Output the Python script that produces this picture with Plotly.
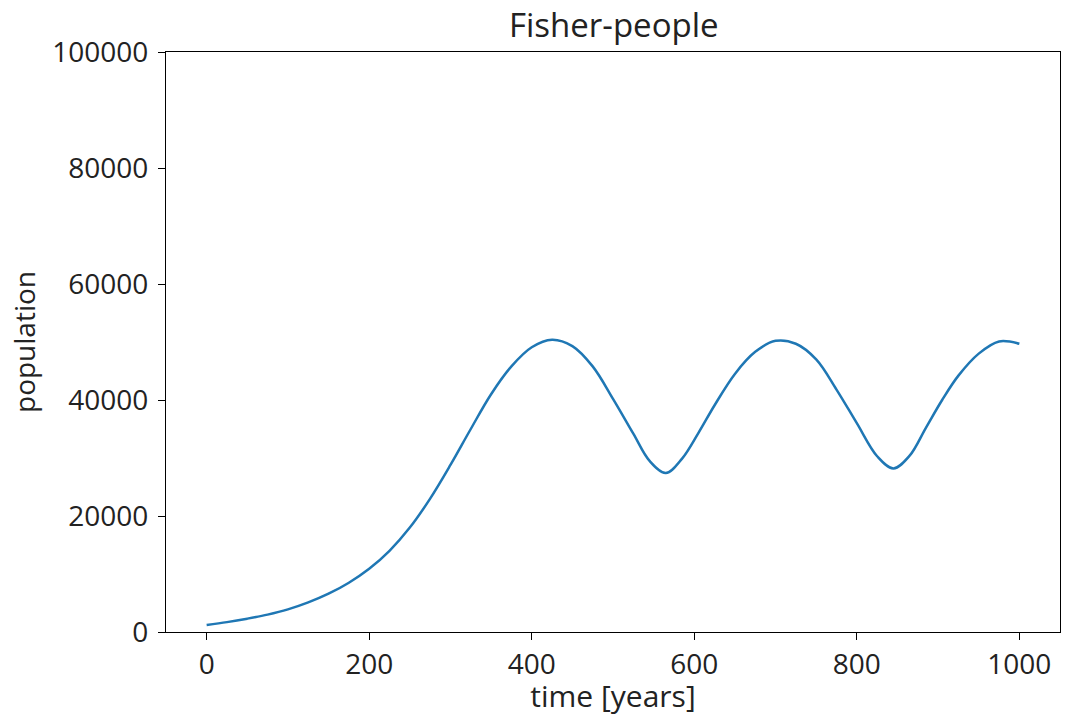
import plotly.graph_objects as go

# time in years
time_years = [0, 25, 50, 75, 100, 125, 150, 175, 200, 225, 250, 275, 300, 325, 350,
              375, 400, 425, 450, 475, 500, 525, 545, 565, 585, 605, 625, 650, 675,
              700, 725, 750, 775, 800, 825, 845, 865, 885, 905, 925, 950, 975, 1000]
# fisher-people population
population = [1200, 1700, 2300, 3000, 3900, 5100, 6600, 8500, 10900, 14000, 18000,
              23000, 28800, 35000, 41000, 45800, 49100, 50400, 49300, 45800, 40200,
              34200, 29500, 27400, 29900, 34300, 39100, 44500, 48300, 50200, 49700,
              47000, 41800, 36000, 30300, 28200, 30400, 35200, 40000, 44200, 48000,
              50100, 49700]

x_ticks = [0, 200, 400, 600, 800, 1000]
y_ticks = [0, 20000, 40000, 60000, 80000, 100000]

FONT = "Open Sans"
TXT = "#222"

fig = go.Figure()
fig.add_trace(go.Scatter(
    x=time_years, y=population, mode="lines",
    line=dict(color="#1f77b4", width=2.5, shape="spline", smoothing=1.0),
    showlegend=False,
))

axis_common = dict(
    showgrid=False, zeroline=False, showline=True, linecolor="black", linewidth=1.2,
    mirror=True, ticks="outside", ticklen=7, tickwidth=1.2, tickcolor="black",
    tickfont=dict(family=FONT, size=28, color=TXT),
)

fig.update_layout(
    width=1076, height=716,
    margin=dict(l=166, r=16, t=52, b=84),
    paper_bgcolor="white", plot_bgcolor="white",
    title=dict(text="Fisher-people", x=0.5704, xanchor="center", y=0.965, yanchor="middle",
               font=dict(family=FONT, size=33, color=TXT)),
    xaxis=dict(range=[-50, 1050], tickvals=x_ticks, **axis_common,
               title=dict(text="time [years]", font=dict(family=FONT, size=30, color=TXT),
                          standoff=0)),
    yaxis=dict(range=[0, 100000], tickvals=y_ticks, tickformat="d",
               ticklabelstandoff=4, **axis_common),
    annotations=[dict(text="population", xref="paper", yref="paper", x=0, y=0.5,
                      xanchor="center", yanchor="middle", xshift=-142, textangle=-90,
                      showarrow=False, font=dict(family=FONT, size=28, color=TXT))],
)

fig.write_html("out.html")
